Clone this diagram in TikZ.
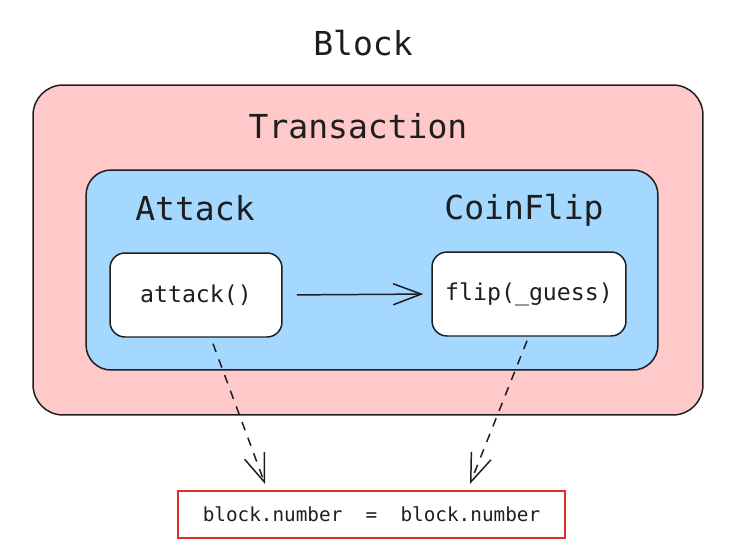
\documentclass[tikz,border=0pt]{standalone}
\usepackage{fontspec}
\newfontfamily\codefont{DejaVu Sans Mono}
\usetikzlibrary{arrows.meta}
\definecolor{txnpink}{HTML}{FFC9C9}
\definecolor{ctrblue}{HTML}{A5D8FF}
\definecolor{inkblack}{HTML}{1E1E1E}
\definecolor{eqred}{HTML}{E03131}
\begin{document}
\begin{tikzpicture}[x=0.02cm, y=-0.02cm,
  every node/.style={font=\codefont, text=inkblack},
  frame/.style={draw=inkblack, line width=0.85pt},
  title/.style={font=\codefont\fontsize{18.8}{22}\selectfont},
  fnbox/.style={frame, fill=white, rounded corners=0.3cm, minimum height=1.68cm,
    font=\codefont\fontsize{13.2}{16}\selectfont},
  barb/.style={draw=inkblack, line width=0.85pt, -{Straight Barb[length=16pt, width=12pt]}}]
  \useasboundingbox (0,0) rectangle (743,555);
  \node[title] (blocklbl) at (363,43) {Block};
  % transaction and the two contracts
  \node[frame, fill=txnpink, rounded corners=0.6cm, minimum width=13.4cm, minimum height=6.6cm] (txn) at (368,250) {};
  \node[title] (txnlbl) at (358,126) {Transaction};
  \node[frame, fill=ctrblue, rounded corners=0.5cm, minimum width=11.44cm, minimum height=4cm] (ctr) at (372,270) {};
  \node[title] (atklbl) at (195,208) {Attack};
  \node[title] (cflbl) at (524,210) {CoinFlip};
  \node[fnbox, minimum width=3.44cm] (atk) at (196,295) {attack()};
  \node[fnbox, minimum width=3.88cm] (flip) at (529,294) {flip(\_guess)};
  \node[draw=eqred, line width=1.2pt, minimum width=7.74cm, minimum height=0.94cm,
    font=\codefont\fontsize{11}{13}\selectfont] (eq) at (371.5,514.5) {block.number~~=~~block.number};
  \draw[barb, shorten <=8pt, shorten >=4.5pt] (atk.east) -- (flip.west);
  \draw[barb, dash pattern=on 5pt off 4.5pt] ([xshift=0.34cm, yshift=-0.12cm]atk.south) -- ([xshift=-2.13cm, yshift=0.12cm]eq.north);
  \draw[barb, dash pattern=on 5pt off 4.5pt] ([xshift=-0.04cm, yshift=-0.08cm]flip.south) -- ([xshift=1.97cm, yshift=0.12cm]eq.north);
\end{tikzpicture}
\end{document}
